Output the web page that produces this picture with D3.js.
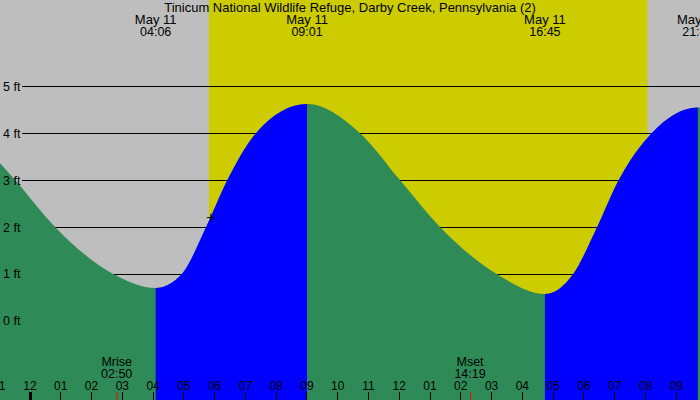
<!DOCTYPE html>
<html>
<head>
  <meta charset="UTF-8">
  <title>Tide chart</title>
  <style>
    body { margin: 0; overflow: hidden; background: #fff; }
    svg { display: block; font-family: "Liberation Sans", Arial, sans-serif; font-size: 12.5px; }
    .grid { stroke: #000; stroke-width: 1px; shape-rendering: crispEdges; }
    .axis text { font-family: "Liberation Sans", Arial, sans-serif; font-size: 12px; fill: #000; }
    .axis line { stroke: #000; shape-rendering: crispEdges; }
    .big { font-size: 13px; }
  </style>
</head>
<body>
  <script src="https://d3js.org/d3.v7.min.js"></script>
  <script>
    const title = "Tinicum National Wildlife Refuge, Darby Creek, Pennsylvania (2)";
    const dayLabel = "May 11";

    // tide curve: hours after midnight May 11, height in ft
    const tideHours   = [-3.9, -0.96, -0.47, 0.83, 2.72, 4.10, 4.95, 5.74, 6.43, 7.36, 9.02, 10.74, 12.04, 13.34, 15.18, 16.75, 17.67, 18.45, 19.15, 20.22, 21.72, 29.0];
    const tideHeights = [4.6,   3.36,  3.0,  2.0,  1.0,  0.70, 1.0,  2.0,  3.0,  4.0,  4.62, 4.0,   3.0,   2.0,   1.0,   0.57,  1.0,   2.0,   3.0,   4.0,   4.55,  0.7];

    // highs and lows
    const extremeTimes = ["04:06", "09:01", "16:45", "21:43"];
    const extremeHours = [4.10, 9.02, 16.75, 21.72];
    const extremeTypes = ["L", "H", "L", "H"];

    // sun and moon
    const sunriseHour = 5.83, sunsetHour = 20.08;
    const sunriseHeight = 2.2;
    const moonEvents = [{name: "Mrise", time: "02:50", hour: 2.833}, {name: "Mset", time: "14:19", hour: 14.317}];

    const heightTicks = [0, 1, 2, 3, 4, 5];
    const hourTicks = d3.range(-1, 22);

    const width = 700, height = 400;
    const x = d3.scaleLinear().domain([0, 24]).range([29.5, 29.5 + 24 * 30.77]);
    const y = d3.scaleLinear().domain([0, 5]).range([320.8, 86.3]);

    const svg = d3.select("body").append("svg").attr("width", width).attr("height", height);

    // night / day background
    svg.append("rect").attr("width", width).attr("height", height).attr("fill", "#bebebe");
    svg.append("rect")
      .attr("x", x(sunriseHour)).attr("y", 0)
      .attr("width", x(sunsetHour) - x(sunriseHour)).attr("height", height)
      .attr("fill", "#cccc00");

    // grid lines sit under the water
    svg.append("g").selectAll("line").data(heightTicks).join("line")
      .attr("class", "grid")
      .attr("x1", 22).attr("x2", width)
      .attr("y1", d => Math.round(y(d)) + 0.5).attr("y2", d => Math.round(y(d)) + 0.5);

    const tide = tideHours.map((h, i) => ({h, v: tideHeights[i]}));
    const area = d3.area()
      .x(d => x(d.h)).y0(height).y1(d => y(d.v))
      .curve(d3.curveMonotoneX);

    // rising (flood) parts are blue, falling (ebb) parts green
    const defs = svg.append("defs");
    const clip = defs.append("clipPath").attr("id", "rising");
    extremeHours.forEach((h, i) => {
      if (extremeTypes[i] === "L" && i + 1 < extremeHours.length) {
        clip.append("rect")
          .attr("x", x(h)).attr("y", 0)
          .attr("width", x(extremeHours[i + 1]) - x(h)).attr("height", height);
      }
    });

    svg.append("path").datum(tide).attr("d", area).attr("fill", "#2e8b57");
    svg.append("path").datum(tide).attr("d", area).attr("fill", "#0000ff").attr("clip-path", "url(#rising)");

    // height labels on top of the water
    svg.append("g").selectAll("text").data(heightTicks).join("text")
      .attr("x", 3).attr("y", d => y(d) + 4.5)
      .text(d => d + " ft");

    // marker at sunrise
    const cx = x(sunriseHour) + 2, cy = y(sunriseHeight);
    svg.append("path")
      .attr("d", `M${cx - 4},${cy}H${cx + 4}M${cx},${cy - 4}V${cy + 4}`)
      .attr("stroke", "#000").attr("stroke-width", 1);

    // title and high/low labels
    svg.append("text").attr("class", "big")
      .attr("x", width / 2).attr("y", 12).attr("text-anchor", "middle").text(title);

    const tideLabels = svg.append("g").selectAll("g").data(extremeHours).join("g")
      .attr("transform", d => `translate(${x(d)},0)`)
      .attr("text-anchor", "middle");
    tideLabels.append("text").attr("class", "big").attr("y", 24).text(dayLabel);
    tideLabels.append("text").attr("y", 36).text((d, i) => extremeTimes[i]);

    // hour axis along the bottom
    const axis = d3.axisTop(x)
      .tickValues(hourTicks)
      .tickSize(8).tickPadding(2)
      .tickFormat(d => d3.format("02d")(((d % 12) + 12) % 12 || 12));
    const ax = svg.append("g").attr("class", "axis").attr("transform", `translate(0,${height})`).call(axis);
    ax.select(".domain").remove();
    ax.selectAll(".tick").filter(d => d === 0).select("line").attr("stroke-width", 3);

    // moon rise / set
    const moon = svg.append("g").selectAll("g").data(moonEvents).join("g")
      .attr("transform", d => `translate(${x(d.hour)},0)`)
      .attr("text-anchor", "middle");
    moon.append("text").attr("y", 366).text(d => d.name);
    moon.append("text").attr("y", 378).text(d => d.time);
    moon.append("line")
      .attr("x1", 0.5).attr("x2", 0.5).attr("y1", 392).attr("y2", height)
      .attr("stroke", "#ff0000");
  </script>
</body>
</html>
